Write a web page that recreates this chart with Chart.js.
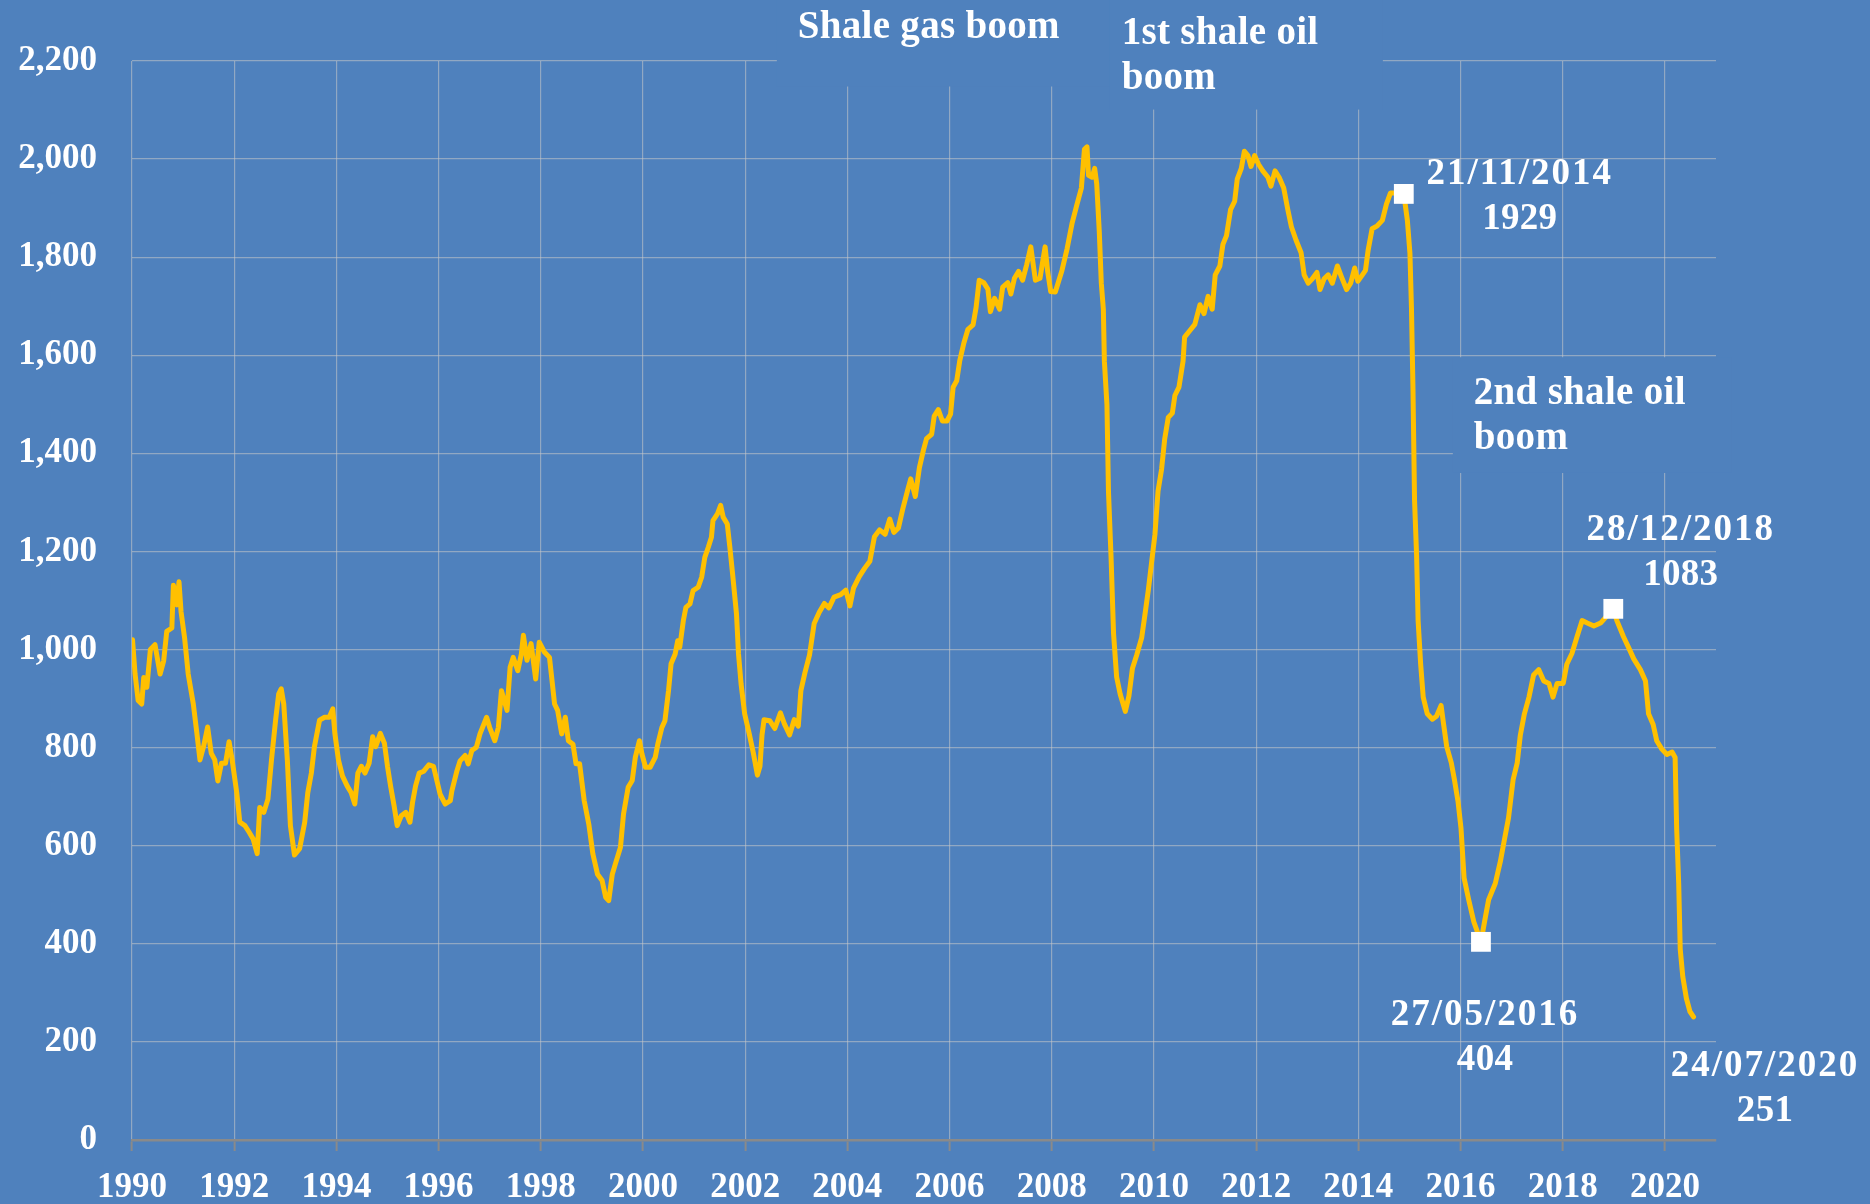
<!DOCTYPE html>
<html>
<head>
<meta charset="utf-8">
<title>US rig count</title>
<script src="https://cdn.jsdelivr.net/npm/chart.js@4.4.1/dist/chart.umd.min.js"></script>
<style>
    html, body { margin: 0; padding: 0; background: #4F81BD; }
    #wrap { width: 1870px; height: 1204px; position: relative; }
</style>
</head>
<body>
<div id="wrap"><canvas id="rigChart"></canvas></div>
<script>
// weekly rig count (decimal years)
const years = [
    1990.01, 1990.06, 1990.12, 1990.19, 1990.23, 1990.29, 1990.36, 1990.45, 1990.55, 1990.62,
    1990.68, 1990.78, 1990.81, 1990.88, 1990.92, 1990.96, 1991.03, 1991.10, 1991.20, 1991.27,
    1991.33, 1991.40, 1991.48, 1991.55, 1991.62, 1991.68, 1991.75, 1991.83, 1991.90, 1991.96,
    1992.05, 1992.11, 1992.21, 1992.29, 1992.37, 1992.45, 1992.50, 1992.58, 1992.66, 1992.73,
    1992.81, 1992.87, 1992.92, 1992.97, 1993.04, 1993.10, 1993.18, 1993.28, 1993.38, 1993.44,
    1993.51, 1993.57, 1993.67, 1993.77, 1993.86, 1993.93, 1993.97, 1994.04, 1994.12, 1994.21,
    1994.29, 1994.36, 1994.42, 1994.49, 1994.56, 1994.64, 1994.71, 1994.77, 1994.86, 1994.94,
    1995.00, 1995.06, 1995.13, 1995.19, 1995.27, 1995.36, 1995.44, 1995.49, 1995.55, 1995.62,
    1995.71, 1995.81, 1995.90, 1996.03, 1996.13, 1996.23, 1996.26,
    1996.36, 1996.42, 1996.52, 1996.58, 1996.65, 1996.74, 1996.81, 1996.94, 1997.00, 1997.10,
    1997.17, 1997.23, 1997.34, 1997.40, 1997.46, 1997.55, 1997.62, 1997.66, 1997.73, 1997.81,
    1997.90, 1997.97, 1998.07, 1998.17, 1998.22, 1998.27, 1998.33, 1998.41, 1998.48, 1998.54,
    1998.63, 1998.69, 1998.76, 1998.85, 1998.94, 1999.02, 1999.11, 1999.20, 1999.27, 1999.33,
    1999.40, 1999.46, 1999.56, 1999.62, 1999.71, 1999.79, 1999.85, 1999.93, 1999.98, 2000.05,
    2000.14, 2000.24, 2000.29, 2000.37, 2000.43, 2000.50, 2000.55, 2000.63, 2000.68, 2000.72,
    2000.79, 2000.84, 2000.92, 2000.98, 2001.08, 2001.15, 2001.21, 2001.28, 2001.34, 2001.37,
    2001.46, 2001.52, 2001.57, 2001.65, 2001.70, 2001.76, 2001.83, 2001.87, 2001.92, 2001.99,
    2002.08,
    2002.16, 2002.24, 2002.29, 2002.33, 2002.37, 2002.48, 2002.58, 2002.69, 2002.77, 2002.87,
    2002.96, 2003.04, 2003.09, 2003.17, 2003.26, 2003.35, 2003.45, 2003.55, 2003.64, 2003.74,
    2003.87, 2003.97, 2004.05, 2004.12, 2004.23, 2004.34, 2004.44, 2004.53, 2004.63, 2004.74,
    2004.83, 2004.91, 2005.00, 2005.09, 2005.18, 2005.24, 2005.33, 2005.41, 2005.49, 2005.55,
    2005.65, 2005.70, 2005.78, 2005.86, 2005.95, 2006.02, 2006.07, 2006.14, 2006.20, 2006.28,
    2006.36, 2006.46, 2006.52, 2006.58, 2006.67, 2006.75, 2006.80, 2006.88, 2006.98, 2007.04,
    2007.14, 2007.20, 2007.27, 2007.35, 2007.43, 2007.51, 2007.59, 2007.68, 2007.77, 2007.87,
    2007.92, 2007.98,
    2008.07, 2008.20, 2008.30, 2008.40, 2008.49, 2008.58, 2008.64, 2008.69, 2008.72, 2008.79,
    2008.84, 2008.88, 2008.93, 2008.97, 2009.01, 2009.03, 2009.08, 2009.11, 2009.16, 2009.21,
    2009.27, 2009.34, 2009.44, 2009.51, 2009.58, 2009.66, 2009.76, 2009.82, 2009.89, 2009.95,
    2010.02, 2010.08, 2010.15, 2010.21, 2010.28, 2010.36, 2010.41, 2010.49, 2010.57, 2010.60,
    2010.70, 2010.80, 2010.90, 2010.98, 2011.06, 2011.14, 2011.20, 2011.29, 2011.35, 2011.42,
    2011.50, 2011.58, 2011.63, 2011.71, 2011.77, 2011.84, 2011.90, 2011.97, 2012.05, 2012.13,
    2012.23, 2012.29, 2012.37, 2012.45, 2012.54, 2012.62, 2012.69, 2012.78, 2012.88, 2012.94,
    2013.02, 2013.10, 2013.19, 2013.25, 2013.33, 2013.41, 2013.49, 2013.59, 2013.67, 2013.77,
    2013.85, 2013.93, 2013.99, 2014.08, 2014.14, 2014.19,
    2014.27, 2014.37, 2014.47, 2014.55, 2014.63, 2014.73, 2014.89, 2014.96, 2015.01, 2015.04,
    2015.07, 2015.10, 2015.14, 2015.17, 2015.22, 2015.27, 2015.35, 2015.45, 2015.53, 2015.62,
    2015.67, 2015.73, 2015.82, 2015.88, 2015.95, 2016.01, 2016.07, 2016.16, 2016.26, 2016.40,
    2016.47, 2016.55, 2016.68, 2016.78, 2016.86, 2016.94, 2017.03, 2017.11, 2017.17, 2017.25,
    2017.34, 2017.43, 2017.53, 2017.63, 2017.73, 2017.81, 2017.89, 2018.01, 2018.08, 2018.18,
    2018.28, 2018.38, 2018.48, 2018.61, 2018.74, 2018.99, 2019.06, 2019.19, 2019.29, 2019.39,
    2019.52, 2019.62, 2019.68, 2019.77, 2019.84, 2019.94, 2020.04, 2020.14, 2020.20, 2020.23,
    2020.27, 2020.30, 2020.35, 2020.42, 2020.49, 2020.56
];
const rigCount = [
    1020, 950, 896, 889, 943, 923, 1000, 1010, 950, 977,
    1037, 1044, 1131, 1091, 1138, 1077, 1023, 950, 889, 829,
    775, 802, 842, 789, 775, 732, 768, 768, 812, 775,
    708, 648, 641, 628, 614, 584, 678, 668, 695, 775,
    856, 909, 920, 889, 775, 641, 581, 594, 648, 708,
    748, 802, 856, 862, 862, 879, 829, 775, 742, 722,
    708, 685, 748, 762, 748, 768, 822, 802, 829, 809,
    762, 722, 681, 641, 661, 668, 648, 688, 722, 748,
    752, 765, 762, 705, 685, 692, 712,
    753, 773, 784, 767, 794, 801, 828, 862, 841, 814,
    841, 916, 876, 964, 984, 957, 991, 1029, 978, 1012,
    940, 1015, 995, 984, 937, 889, 876, 828, 862, 814,
    807, 767, 767, 692, 644, 583, 542, 529, 495, 488,
    542, 563, 597, 665, 719, 733, 780, 814, 787, 760,
    760, 780, 807, 841, 855, 916, 971, 991, 1018, 1005,
    1059, 1086, 1093, 1120, 1127, 1148, 1188, 1209, 1229, 1263,
    1277, 1294, 1270, 1256, 1209, 1148, 1073, 991, 930, 869,
    828,
    789, 744, 762, 826, 857, 855, 839, 871, 848, 826,
    857, 844, 916, 953, 989, 1053, 1076, 1094, 1085, 1107,
    1112, 1121, 1089, 1125, 1148, 1166, 1180, 1230, 1244, 1235,
    1266, 1239, 1248, 1289, 1325, 1348, 1312, 1371, 1407, 1430,
    1439, 1476, 1489, 1466, 1466, 1480, 1535, 1548, 1589, 1625,
    1653, 1662, 1698, 1753, 1748, 1735, 1689, 1716, 1694, 1739,
    1748, 1725, 1757, 1771, 1753, 1785, 1821, 1753, 1757, 1821,
    1771, 1730,
    1729, 1773, 1817, 1870, 1906, 1941, 2020, 2025, 1967, 1963,
    1981, 1950, 1853, 1747, 1694, 1588, 1500, 1323, 1191, 1032,
    944, 909, 874, 905, 962, 988, 1024, 1068, 1121, 1174,
    1235, 1323, 1368, 1429, 1473, 1482, 1518, 1535, 1588, 1637,
    1650, 1663, 1703, 1685, 1720, 1694, 1764, 1782, 1826, 1844,
    1897, 1914, 1959, 1981, 2016, 2007, 1985, 2007, 1989, 1976,
    1963, 1945, 1976, 1963, 1941, 1897, 1862, 1835, 1809, 1764,
    1747, 1756, 1769, 1734, 1756, 1764, 1747, 1782, 1760, 1734,
    1747, 1778, 1751, 1764, 1773, 1813,
    1858, 1864, 1875, 1908, 1931, 1931, 1929, 1875, 1808, 1696,
    1529, 1305, 1193, 1059, 970, 903, 869, 858, 864, 886,
    847, 802, 769, 735, 691, 635, 534, 490, 445, 404,
    445, 490, 523, 568, 613, 657, 735, 769, 825, 869,
    903, 948, 959, 936, 931, 903, 931, 931, 970, 992,
    1026, 1059, 1054, 1048, 1054, 1083, 1059, 1026, 1004, 981,
    959, 936, 869, 847, 814, 797, 786, 791, 780, 635,
    523, 389, 333, 289, 262, 251
];

// highlighted weeks
const markerYears = [2014.89, 2016.40, 2018.99];
const markerValues = [1929, 404, 1083];

const yMin = 0, yMax = 2200, yStep = 200;
const xMin = 1990, xMax = 2021, xStep = 2;

const BG = '#4F81BD';
const GRID = 'rgba(200, 200, 200, 0.55)';
const AXIS = '#8a8a8a';
const LINE = '#FFC000';
const FONT = "'Liberation Serif', 'Times New Roman', serif";

// texts placed in data units (year, value); masks hide the grid behind the boom labels
const notes = [
    { lines: ['Shale gas boom'], x: 2003.03, y: 2268, align: 'left', size: 39 },
    { lines: ['1st shale oil', 'boom'], x: 2009.37, y: 2256, align: 'left', size: 39 },
    { lines: ['2nd shale oil', 'boom'], x: 2016.26, y: 1521, align: 'left', size: 39 },
    { lines: ['21/11/2014', '1929'], x: 2017.16, y: 1969, align: 'center', size: 37 },
    { lines: ['27/05/2016', '404'], x: 2016.48, y: 254, align: 'center', size: 37 },
    { lines: ['28/12/2018', '1083'], x: 2020.31, y: 1242, align: 'center', size: 37 },
    { lines: ['24/07/2020', '251'], x: 2021.96, y: 150, align: 'center', size: 37 }
];
const masks = [
    { x0: 2002.62, x1: 2009.14, top: 2340, bottom: 2148 },
    { x0: 2009.14, x1: 2014.48, top: 2340, bottom: 2101 },
    { x0: 2015.85, x1: 2021.3, top: 1596, bottom: 1360 }
];

const notesPlugin = {
    id: 'notes',
    beforeDatasetsDraw(chart) {
        const { ctx, scales: { x, y } } = chart;
        ctx.save();
        ctx.fillStyle = BG;
        masks.forEach(m => {
            const x0 = x.getPixelForValue(m.x0);
            const x1 = x.getPixelForValue(m.x1);
            const y0 = y.getPixelForValue(m.top);
            const y1 = y.getPixelForValue(m.bottom);
            ctx.fillRect(x0, y0, x1 - x0, y1 - y0);
        });
        ctx.restore();
    },
    afterDatasetsDraw(chart) {
        const { ctx, scales: { x, y } } = chart;
        ctx.save();
        ctx.fillStyle = '#ffffff';
        ctx.textBaseline = 'middle';
        notes.forEach(n => {
            const px = x.getPixelForValue(n.x);
            const py = y.getPixelForValue(n.y);
            ctx.textAlign = n.align;
            ctx.font = 'bold ' + n.size + 'px ' + FONT;
            n.lines.forEach((t, i) => {
                ctx.letterSpacing = t.indexOf('/') >= 0 ? '2px' : '0.3px';
                ctx.fillText(t, px, py + i * 45);
            });
        });
        ctx.restore();
    }
};

document.addEventListener('DOMContentLoaded', function() {
    const ctx = document.getElementById('rigChart').getContext('2d');

    const linePoints = years.map((yr, i) => ({ x: yr, y: rigCount[i] }));
    const markerPoints = markerYears.map((yr, i) => ({ x: yr, y: markerValues[i] }));

    new Chart(ctx, {
        type: 'line',
        data: {
            datasets: [
                {
                    label: 'Highlights',
                    data: markerPoints,
                    showLine: false,
                    pointStyle: 'rect',
                    pointRadius: 14,
                    pointBackgroundColor: '#ffffff',
                    pointBorderWidth: 0
                },
                {
                    label: 'Rig count',
                    data: linePoints,
                    borderColor: LINE,
                    borderWidth: 5,
                    pointRadius: 0,
                    tension: 0,
                    borderJoinStyle: 'round',
                    borderCapStyle: 'round',
                    fill: false
                }
            ]
        },
        options: {
            responsive: true,
            maintainAspectRatio: false,
            animation: false,
            devicePixelRatio: 1,
            events: [],
            layout: { padding: { top: 61, right: 154, bottom: 0, left: 0 } },
            plugins: {
                legend: { display: false },
                tooltip: { enabled: false }
            },
            scales: {
                x: {
                    type: 'linear',
                    min: xMin,
                    max: xMax,
                    afterFit: s => { s.height = 64; },
                    grid: {
                        color: GRID,
                        lineWidth: 1.2,
                        drawTicks: true,
                        tickLength: 11,
                        tickColor: AXIS,
                        tickWidth: 2
                    },
                    border: { display: true, color: AXIS, width: 2.5 },
                    ticks: {
                        stepSize: xStep,
                        includeBounds: false,
                        autoSkip: false,
                        maxRotation: 0,
                        padding: 16,
                        color: '#ffffff',
                        font: { family: FONT, size: 35, weight: 'bold' },
                        callback: v => String(v)
                    }
                },
                y: {
                    min: yMin,
                    max: yMax,
                    afterFit: s => { s.width = 132; },
                    grid: { color: GRID, lineWidth: 1.2, drawTicks: false },
                    border: { display: false },
                    ticks: {
                        stepSize: yStep,
                        autoSkip: false,
                        padding: 35,
                        color: '#ffffff',
                        font: { family: FONT, size: 35, weight: 'bold' },
                        callback: v => v.toLocaleString('en-US')
                    }
                }
            }
        },
        plugins: [notesPlugin]
    });
});
</script>
</body>
</html>
